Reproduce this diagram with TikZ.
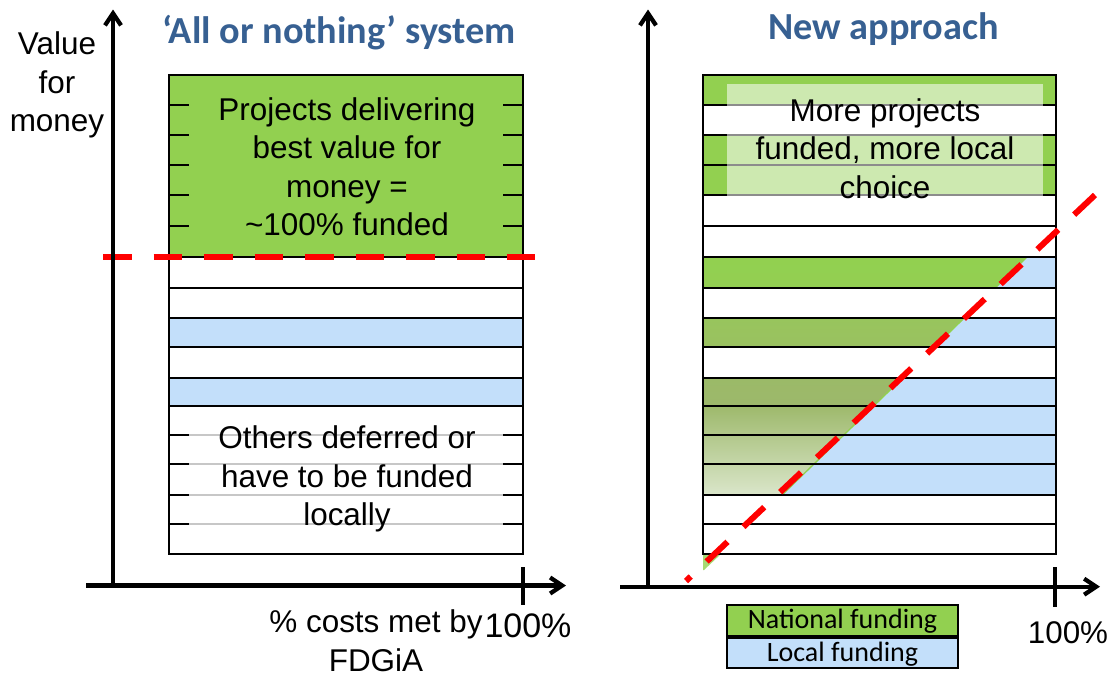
\documentclass[tikz,border=0pt]{standalone}
\usepackage{fontspec}
\setmainfont{Liberation Sans}
\newfontfamily\calibri{Carlito}
\usetikzlibrary{arrows.meta}
\definecolor{ngreen}{HTML}{92D050}
\definecolor{lblue}{HTML}{C3DFFA}
\definecolor{ttl}{HTML}{376092}
\definecolor{gA}{HTML}{93CF52}
\definecolor{gB}{HTML}{98C55D}
\definecolor{gC}{HTML}{9AC160}
\definecolor{gD}{HTML}{9BBA68}
\definecolor{gE}{HTML}{9DB86B}
\definecolor{gF}{HTML}{9EB96C}
\definecolor{gG}{HTML}{DAE6CA}
\begin{document}
\begin{tikzpicture}[x=0.75pt,y=-0.75pt,
  rowline/.style={line width=1.4pt},
  axisline/.style={line width=3.2pt,-{Straight Barb[length=9pt,width=12pt]}},
  tickline/.style={line width=3.2pt},
  reddash/.style={red,line width=4.5pt,dash pattern=on 21.5pt off 16.4pt},
  bodytext/.style={font=\fontsize{23.6}{28.8}\selectfont,align=center,inner sep=0pt},
  ttlfont/.style={font=\calibri\bfseries\fontsize{28.7}{34}\selectfont,text=ttl,inner sep=0pt},
  legbox/.style={draw,line width=1.2pt,font=\calibri\fontsize{21}{24}\selectfont,
    minimum width=173.25pt,inner sep=0pt,text height=15pt,text depth=2.5pt},
  greenedge/.style={ngreen,line width=1pt}]
\useasboundingbox (0,0) rectangle (1115,678);

% ---------------- left panel ----------------
\fill[ngreen] (169,75) rectangle (523,257);
\fill[lblue] (169,318) rectangle (523,347);
\fill[lblue] (169,378) rectangle (523,406);
\foreach \yy in {288,318,347,378,406,435,464,495,524}
  \draw[rowline] (169,\yy) -- (523,\yy);
\fill[white,opacity=0.78] (189,411) rectangle (503,545);
\foreach \yy in {105,135,165,195,226}{
  \draw[rowline] (169,\yy) -- (189,\yy);
  \draw[rowline] (503,\yy) -- (523,\yy);}
\draw[rowline] (169,75) rectangle (523,554);
\draw[line width=2.2pt] (169,257) -- (523,257);

\node[bodytext] (best) at (347,166.7) {Projects delivering\\best value for\\money =\\\textasciitilde100\% funded};
\node[bodytext] (others) at (347,479) {Others deferred or\\have to be funded\\locally};
\draw[reddash] (103,257) -- (535,257);

% axes left
\draw[axisline] (113,587) -- (113,9.5);
\draw[axisline] (86,585.5) -- (566,585.5);
\draw[tickline] (523,567) -- (523,605);
\node[bodytext] (vfm) at (57,85) {Value\\for\\money};
\node[bodytext] (costs) at (376,640.7) {\% costs met by\\FDGiA};
\node[font=\fontsize{25.5}{28}\selectfont,inner sep=0pt,anchor=base] (hl) at (528,637) {100\%};
\node[ttlfont,anchor=base] (t1) at (339,43.3) {‘All or nothing’ system};

% ---------------- right panel ----------------
\fill[ngreen] (703,75) rectangle (1056,105);
\fill[ngreen] (703,135) rectangle (1056,195);
% split rows
\shade[top color=ngreen,bottom color=gA] (703,257) -- (1027,257) -- (995.1,288) -- (703,288) -- cycle;
\fill[lblue] (1027,257) -- (1056,257) -- (1056,288) -- (995.1,288) -- cycle;
\shade[top color=gB,bottom color=gC] (703,318) -- (964.2,318) -- (934.4,347) -- (703,347) -- cycle;
\fill[lblue] (964.2,318) -- (1056,318) -- (1056,347) -- (934.4,347) -- cycle;
\shade[top color=gD,bottom color=gE] (703,378) -- (902.5,378) -- (873.7,406) -- (703,406) -- cycle;
\fill[lblue] (902.5,378) -- (1056,378) -- (1056,406) -- (873.7,406) -- cycle;
\shade[top color=gF,bottom color=gG] (703,406) -- (873.7,406) -- (782.1,495) -- (703,495) -- cycle;
\fill[lblue] (873.7,406) -- (1056,406) -- (1056,495) -- (782.1,495) -- cycle;
\fill[ngreen!80] (703,554) -- (721,554) -- (704,570) -- (703,570) -- cycle;
\draw[greenedge] (1027,257) -- (995.1,288);
\draw[greenedge] (964.2,318) -- (934.4,347);
\draw[greenedge] (902.5,378) -- (782.1,495);

\foreach \yy in {105,135,165,195,226,257,288,318,347,378,406,435,464,495,524}
  \draw[rowline] (703,\yy) -- (1056,\yy);
\draw[rowline] (703,75) rectangle (1056,554);
\fill[white,opacity=0.55] (727,84) rectangle (1043,197);
\node[bodytext] (more) at (885,148.4) {More projects\\funded, more local\\choice};
\draw[reddash] (1095,195) -- (686,581);

% axes right
\draw[axisline] (648,588) -- (648,9.5);
\draw[axisline] (620,586.7) -- (1100,586.7);
\draw[tickline] (1055,567) -- (1055,607);
\node[font=\fontsize{23.5}{28}\selectfont,inner sep=0pt,anchor=base] (hr) at (1068,643) {100\%};
\node[ttlfont,anchor=base] (t2) at (883.5,39.3) {New approach};

% legend
\node[legbox,fill=ngreen,minimum height=23.25pt] (nat) at (842.5,620.5) {National funding};
\node[legbox,fill=lblue,minimum height=22.5pt] (loc) at (842.5,653) {Local funding};
\end{tikzpicture}
\end{document}
